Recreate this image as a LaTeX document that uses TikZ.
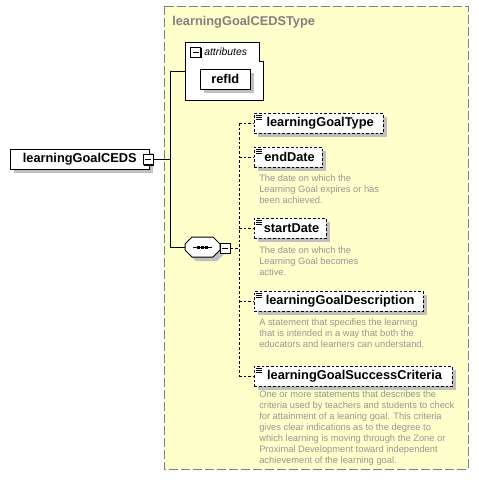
\documentclass[tikz,border=0pt]{standalone}
\usepackage{fontspec}
\setmainfont{Liberation Sans}
\usetikzlibrary{shadows}

\definecolor{typefill}{RGB}{255,255,204}
\definecolor{typeline}{RGB}{128,128,128}
\definecolor{doctext}{RGB}{150,150,150}
\definecolor{shadowgray}{RGB}{192,192,192}

\tikzset{
  elem/.style={draw, fill=white, font=\bfseries\fontsize{9.6}{11}\selectfont,
    minimum height=15pt, inner sep=0pt, anchor=north west,
    general shadow={fill=shadowgray, shadow xshift=3pt, shadow yshift=-3pt}},
  optelem/.style={elem, dash pattern=on 2pt off 1.5pt},
  doc/.style={anchor=north west, text=doctext, font=\fontsize{7}{8.25}\selectfont,
    align=left, inner sep=0pt},
  minusbox/.style={draw, fill=white, minimum size=7.5pt, inner sep=0pt,
    general shadow={fill=black, shadow xshift=0.75pt, shadow yshift=-0.75pt},
    path picture={\draw ([xshift=1.5pt]path picture bounding box.west)
      -- ([xshift=-1.5pt]path picture bounding box.east);}},
  conn/.style={draw, line width=0.75pt},
  optconn/.style={draw, line width=0.75pt, dash pattern=on 2pt off 1.5pt}
}

\begin{document}
\begin{tikzpicture}[x=0.75pt,y=-0.75pt]
\useasboundingbox (0,0) rectangle (479,483);

% complex type frame
\draw[fill=typefill, draw=typeline, line width=0.75pt, dash pattern=on 7pt off 2pt]
  (164,6) rectangle (468,469);
\node[anchor=west, text=typeline, font=\bfseries\fontsize{9.6}{11}\selectfont, inner sep=0pt]
  (typename) at (172,22) {learningGoalCEDSType};

% attributes group
\draw[fill=white, line width=0.75pt] (185,42)--(259,42)--(259,61)--(263,61)--(263,100)--(185,100)--cycle;
\coordinate (attrs) at (185,71);
\node[minusbox, minimum size=7.5pt] (attrminus) at (195.5,52) {};
\node[anchor=west, inner sep=0pt, font=\itshape\fontsize{7.8}{9.6}\selectfont] (attrlabel) at (204,52) {attributes};
\node[elem, minimum width=37.5pt] (refid) at (200,69) {refId};

% root element
\node[elem, minimum width=104.25pt] (ceds) at (10,149) {learningGoalCEDS};
\node[minusbox] (cedsminus) at (148,159.5) {};

% sequence compositor
\fill[shadowgray] (189,248)--(196,241)--(217,241)--(224,248)--(224,254)--(217,261)--(196,261)--(189,254)--cycle;
\draw[fill=white, line width=0.75pt] (185,244)--(192,237)--(213,237)--(220,244)--(220,250)--(213,257)--(192,257)--(185,250)--cycle;
\coordinate (seq) at (185,247);
\draw[line width=0.75pt] (193,247) -- (212,247);
\foreach \dx in {198,202,206}
  \fill (\dx-1.5,245.5) rectangle (\dx+1.5,248.5);
\node[minusbox] (seqminus) at (225,248) {};

% trunk
\coordinate (trunktop) at (170,71);
\coordinate (trunkbot) at (170,247);
\path[conn] (cedsminus.east) -- (cedsminus.east -| trunktop);
\path[conn] (attrs) -- (trunktop) -- (trunkbot) -- (seq);

% child elements
\node[optelem, minimum width=96.75pt] (goaltype) at (254,113) {\hspace*{2pt}learningGoalType};
\node[optelem, minimum width=51pt] (enddate) at (254,147) {\hspace*{2pt}endDate};
\node[doc] (enddatedoc) at (259,174.5) {The date on which the\\Learning Goal expires or has\\been achieved.};
\node[optelem, minimum width=54pt] (startdate) at (254,218) {\hspace*{2pt}startDate};
\node[doc] (startdatedoc) at (259,246) {The date on which the\\Learning Goal becomes\\active.};
\node[optelem, minimum width=126.75pt] (goaldesc) at (254,291) {\hspace*{2pt}learningGoalDescription};
\node[doc] (goaldescdoc) at (259,318.5) {A statement that specifies the learning\\that is intended in a way that both the\\educators and learners can understand.};
\node[optelem, minimum width=148.5pt] (goalcrit) at (254,366) {\hspace*{2pt}learningGoalSuccessCriteria};
\node[doc] (goalcritdoc) at (259,390.5) {One or more statements that describes the\\criteria used by teachers and students to check\\for attainment of a leaning goal. This criteria\\gives clear indications as to the degree to\\which learning is moving through the Zone or\\Proximal Development toward independent\\achievement of the learning goal.};

% optional marks
\foreach \el in {goaltype,enddate,startdate,goaldesc,goalcrit}
  \foreach \dy in {2,4,6}
    \draw[line width=0.6pt] ([xshift=1.5pt, yshift=-\dy*0.75pt]\el.north west)
      -- ++(4.5pt,0);

% dashed branch
\coordinate (branchtop) at (239,123);
\coordinate (branchbot) at (239,376);
\path[optconn] (seqminus.east) -- (seqminus.east -| branchtop);
\path[optconn] (branchtop) -- (branchbot);
\foreach \el in {goaltype,enddate,startdate,goaldesc,goalcrit}
  \path[optconn] (\el.west -| branchtop) -- (\el.west);

\end{tikzpicture}
\end{document}
